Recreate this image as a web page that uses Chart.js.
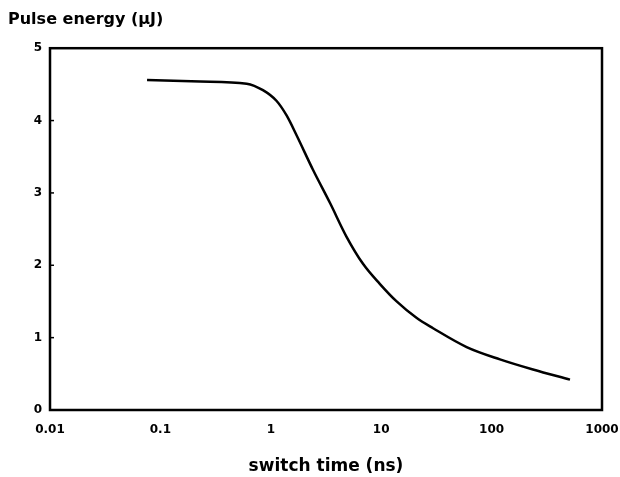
<!DOCTYPE html>
<html>
<head>
<meta charset="utf-8">
<script src="https://cdn.jsdelivr.net/npm/chart.js@4/dist/chart.umd.min.js"></script>
<style>
  html, body { margin: 0; padding: 0; background: #ffffff; }
  #wrap { width: 620px; height: 477px; position: relative; }
</style>
</head>
<body>
<div id="wrap"><canvas id="c" width="620" height="477"></canvas></div>
<script>
// ---- data ----
const switchTime = [0.0757, 0.229, 0.605, 0.849, 1.13, 1.39, 1.72, 2.41, 3.44, 4.87, 6.84, 9.75, 13.8, 21.0, 29.5, 59.4, 119, 237, 513];
const pulseEnergy = [4.56, 4.54, 4.51, 4.42, 4.27, 4.07, 3.79, 3.32, 2.86, 2.39, 2.02, 1.74, 1.50, 1.27, 1.13, 0.87, 0.70, 0.56, 0.42];
const xTickValues = [0.01, 0.1, 1, 10, 100, 1000];
const xTickLabels = ['0.01', '0.1', '1', '10', '100', '1000'];
const yTickValues = [0, 1, 2, 3, 4, 5];
const yTickLabels = ['0', '1', '2', '3', '4', '5'];
const titleText = 'Pulse energy (\u03BCJ)';
const xTitleText = 'switch time (ns)';

const points = switchTime.map((x, i) => ({ x: x, y: pulseEnergy[i] }));

const framePlugin = {
  id: 'frame',
  beforeDraw(chart) {
    const ctx = chart.ctx;
    ctx.save();
    ctx.fillStyle = '#ffffff';
    ctx.fillRect(0, 0, chart.width, chart.height);
    ctx.restore();
  },
  afterDraw(chart) {
    const { ctx, chartArea } = chart;
    const ys = chart.scales.y;
    ctx.save();
    ctx.strokeStyle = '#000000';
    ctx.lineWidth = 2.5;
    ctx.strokeRect(chartArea.left, chartArea.top, chartArea.right - chartArea.left, chartArea.bottom - chartArea.top);
    ctx.lineWidth = 1.5;
    yTickValues.forEach(v => {
      if (v === 0 || v === 5) return;
      const py = ys.getPixelForValue(v);
      ctx.beginPath();
      ctx.moveTo(chartArea.left, py);
      ctx.lineTo(chartArea.left + 4, py);
      ctx.stroke();
    });
    ctx.restore();
  }
};

const FONT = 'DejaVu Sans';

new Chart(document.getElementById('c'), {
  type: 'line',
  data: {
    datasets: [{
      data: points,
      borderColor: '#000000',
      borderWidth: 2.5,
      pointRadius: 0,
      fill: false,
      cubicInterpolationMode: 'monotone'
    }]
  },
  options: {
    responsive: false,
    animation: false,
    devicePixelRatio: 1,
    layout: { padding: { left: 8, right: 18, top: 0, bottom: 0 } },
    plugins: {
      legend: { display: false },
      tooltip: { enabled: false },
      title: {
        display: true,
        text: titleText,
        align: 'start',
        color: '#000000',
        font: { family: FONT, size: 16, weight: 'bold' },
        padding: { top: 10, bottom: 19 }
      }
    },
    scales: {
      x: {
        type: 'logarithmic',
        min: 0.01,
        max: 1000,
        afterBuildTicks(scale) {
          scale.ticks = xTickValues.map(v => ({ value: v }));
        },
        afterFit(scale) {
          scale.height = 67;
          scale.paddingLeft = 0;
          scale.paddingRight = 0;
        },
        grid: { display: false, drawTicks: false },
        border: { display: false },
        ticks: {
          autoSkip: false,
          maxRotation: 0,
          padding: 13,
          color: '#000000',
          font: { family: FONT, size: 12, weight: 'bold' },
          callback: (v, i) => xTickLabels[i]
        },
        title: {
          display: true,
          text: xTitleText,
          color: '#000000',
          font: { family: FONT, size: 17, weight: 'bold' },
          padding: { top: 20, bottom: 0 }
        }
      },
      y: {
        type: 'linear',
        min: 0,
        max: 5,
        afterBuildTicks(scale) {
          scale.ticks = yTickValues.map(v => ({ value: v }));
        },
        afterFit(scale) {
          scale.width = 42;
          scale.paddingTop = 0;
          scale.paddingBottom = 0;
        },
        grid: { display: false, drawTicks: false },
        border: { display: false },
        ticks: {
          padding: 8,
          color: '#000000',
          font: { family: FONT, size: 12, weight: 'bold' },
          callback: (v, i) => yTickLabels[i]
        }
      }
    }
  },
  plugins: [framePlugin]
});
</script>
</body>
</html>
